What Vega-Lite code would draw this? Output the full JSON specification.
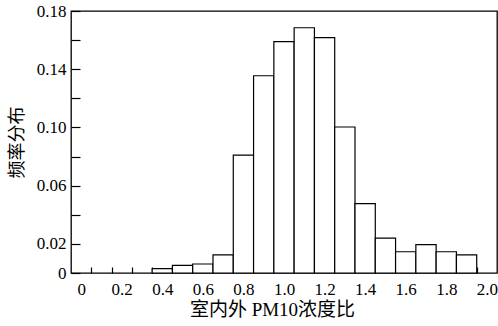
{
  "$schema": "https://vega.github.io/schema/vega-lite/v6.json",
  "width": 426,
  "height": 262,
  "autosize": "none",
  "padding": {"left": 71, "top": 11, "right": 1, "bottom": 53},
  "background": "white",
  "config": {
    "view": {"stroke": "black", "strokeWidth": 1.3},
    "axis": {
      "labelFont": "Liberation Serif",
      "labelFontSize": 17,
      "labelColor": "black",
      "titleFont": "Liberation Serif, Noto Sans CJK SC",
      "titleFontSize": 18,
      "titleFontWeight": "normal",
      "titleColor": "black",
      "domain": false,
      "grid": false,
      "tickColor": "black",
      "tickWidth": 1.2
    }
  },
  "data": {
    "values": [
      {"x0": 0.35, "x1": 0.45, "freq": 0.003},
      {"x0": 0.45, "x1": 0.55, "freq": 0.0053},
      {"x0": 0.55, "x1": 0.65, "freq": 0.0062},
      {"x0": 0.65, "x1": 0.75, "freq": 0.0124},
      {"x0": 0.75, "x1": 0.85, "freq": 0.081},
      {"x0": 0.85, "x1": 0.95, "freq": 0.1355},
      {"x0": 0.95, "x1": 1.05, "freq": 0.159},
      {"x0": 1.05, "x1": 1.15, "freq": 0.1685},
      {"x0": 1.15, "x1": 1.25, "freq": 0.1617},
      {"x0": 1.25, "x1": 1.35, "freq": 0.1003},
      {"x0": 1.35, "x1": 1.45, "freq": 0.0476},
      {"x0": 1.45, "x1": 1.55, "freq": 0.024},
      {"x0": 1.55, "x1": 1.65, "freq": 0.0146},
      {"x0": 1.65, "x1": 1.75, "freq": 0.0195},
      {"x0": 1.75, "x1": 1.85, "freq": 0.0146},
      {"x0": 1.85, "x1": 1.95, "freq": 0.0124}
    ]
  },
  "mark": {"type": "bar", "fill": "white", "stroke": "black", "strokeWidth": 1.2},
  "encoding": {
    "x": {
      "field": "x0",
      "type": "quantitative",
      "scale": {"domain": [-0.05, 2.05], "nice": false, "zero": false},
      "axis": {
        "title": "室内外 PM10浓度比",
        "titleFontSize": 19,
        "titleX": 201,
        "titleAlign": "center",
        "values": [0, 0.05, 0.15, 0.2, 0.25, 0.35, 0.4, 0.45, 0.55, 0.6, 0.65, 0.75, 0.8, 0.85, 0.95, 1.0, 1.05, 1.15, 1.2, 1.25, 1.35, 1.4, 1.45, 1.55, 1.6, 1.65, 1.75, 1.8, 1.85, 1.95, 2.0],
        "labelExpr": "round(datum.value*100) % 20 == 0 ? (datum.value == 0 ? '0' : format(datum.value, '.1f')) : ''",
        "tickSize": -6,
        "tickOpacity": {"condition": {"test": "round(datum.value*100) % 10 == 5", "value": 1}, "value": 0},
        "labelPadding": 14,
        "labelFlush": false,
        "labelOverlap": false,
        "titlePadding": 3
      }
    },
    "x2": {"field": "x1"},
    "y": {
      "field": "freq",
      "type": "quantitative",
      "scale": {"domain": [0, 0.18], "nice": false},
      "axis": {
        "title": "频率分布",
        "values": [0, 0.02, 0.04, 0.06, 0.08, 0.10, 0.12, 0.14, 0.16, 0.18],
        "labelExpr": "datum.value == 0 ? '0' : (round(datum.value*100) % 4 == 2 ? format(datum.value, '.2f') : '')",
        "tickSize": -9,
        "labelPadding": 14,
        "labelFlush": false,
        "labelOverlap": false,
        "titlePadding": 10
      }
    },
    "y2": {"datum": 0}
  }
}
